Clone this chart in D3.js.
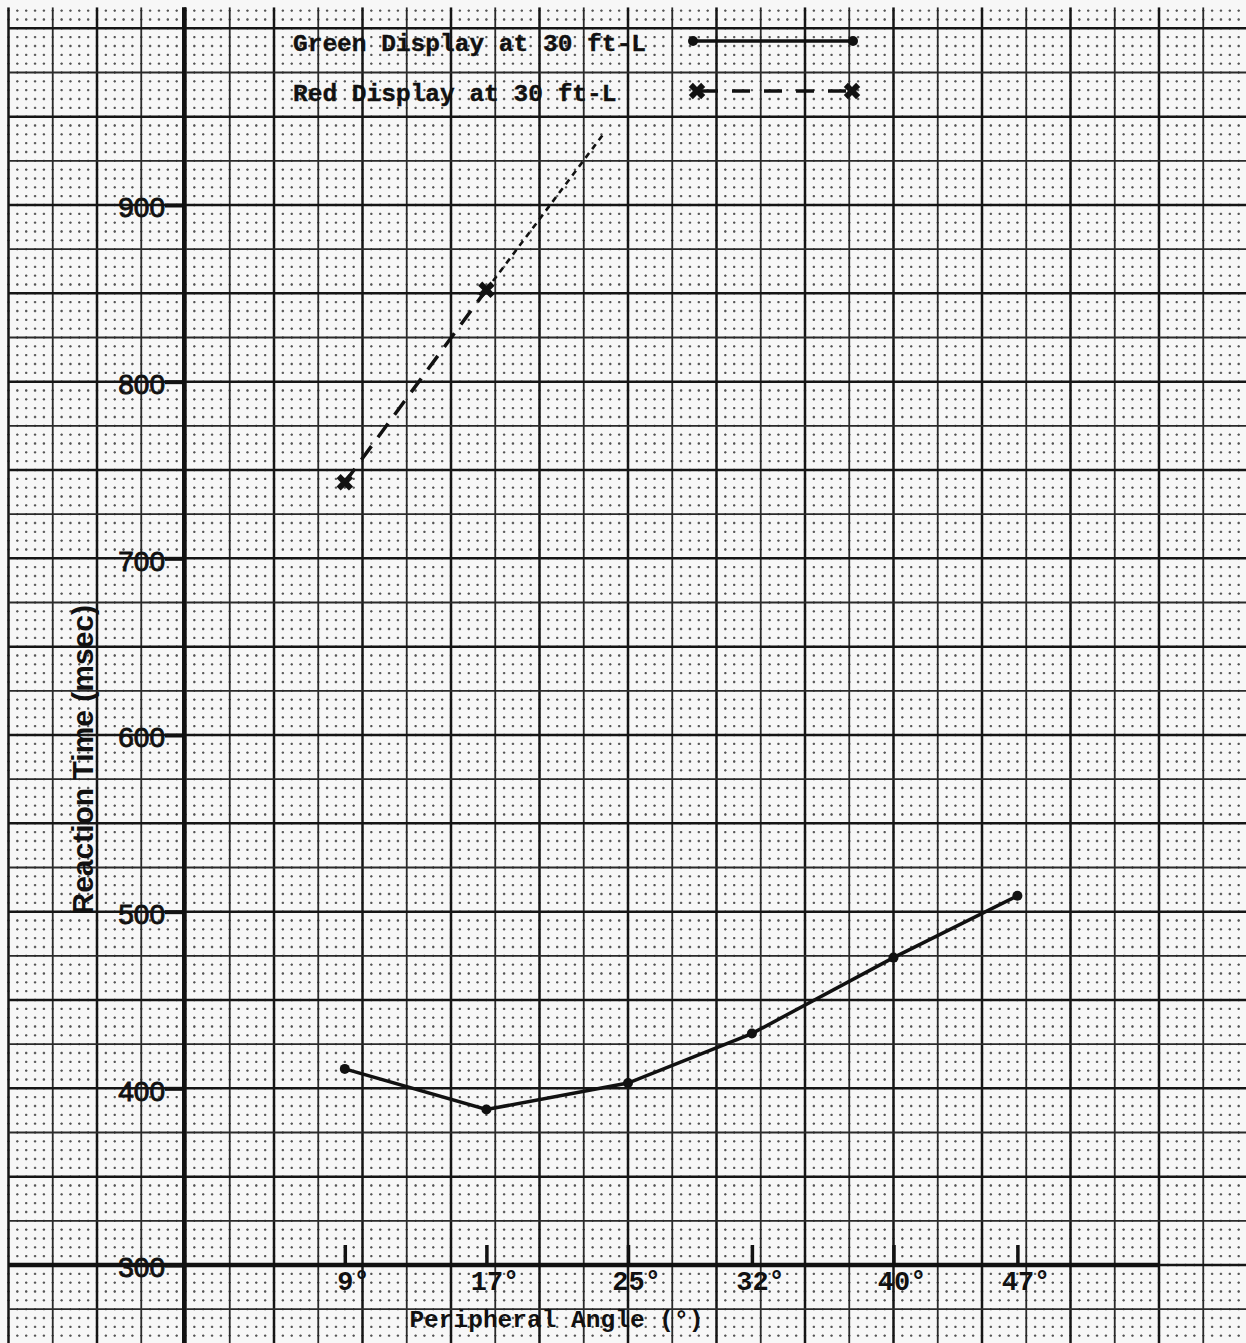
<!DOCTYPE html>
<html lang="en">
  <head>
    <meta charset="utf-8">
    <title>Reaction Time vs Peripheral Angle</title>
    <script type="text/javascript" src="https://d3js.org/d3.v7.min.js"></script>
  </head>
  <style>
    body { margin: 0; background: #f6f6f6; }
    svg { display: block; }
  </style>
  <body>
    <svg class="chart"></svg>
  </body>

  <script>
    //Data
    const angles = [9, 17, 25, 32, 40, 47];
    const greenRT = [411, 388, 403, 431, 474, 509];
    const redAngles = [9, 17];
    const redRT = [743, 852];
    //hand drawn dotted continuation of the red curve
    const redExtAngles = [17, 23.6];
    const redExtRT = [852, 940];
    const yTicks = [300, 400, 500, 600, 700, 800, 900];
    const xTickLabels = ["9°", "17°", "25°", "32°", "40°", "47°"];
    const legendLabels = ["Green Display at 30 ft-L", "Red Display at 30 ft-L"];

    //Constants
    const width = 1246, height = 1343;
    const ink = "#111";

    var svg = d3.select(".chart")
      .attr("width", width)
      .attr("height", height);

    var xScale = d3.scaleLinear().domain([0, 55]).range([185.5, 185.5 + 55 * 17.7]);
    var yScale = d3.scaleLinear().domain([300, 900]).range([1265, 205]);

    /*
      graph paper
        - minor lines every 0.5 deg / 5 msec (dotted)
        - medium lines every 2.5 deg / 25 msec
        - heavy lines every 5 deg / 50 msec
    */
    var paperLeft = xScale(-10), paperTop = yScale(1012);
    svg.append("rect")
      .attr("x", 0).attr("y", 0).attr("width", width).attr("height", height)
      .attr("fill", "#f7f7f7");

    svg.append("clipPath").attr("id", "paper")
      .append("rect")
        .attr("x", paperLeft - 2).attr("y", paperTop)
        .attr("width", width).attr("height", height);

    var paper = svg.append("g").attr("clip-path", "url(#paper)");

    var xMinor = d3.range(-10, 62, 0.5);
    var yMinor = d3.range(250, 1020, 5);
    var cellX = xScale(0.5) - xScale(0), cellY = yScale(300) - yScale(305);

    paper.selectAll(".vminor")
      .data(xMinor.filter(d => Math.abs(d / 2.5 - Math.round(d / 2.5)) > 1e-6))
      .enter().append("line")
        .attr("x1", d => xScale(d)).attr("x2", d => xScale(d))
        .attr("y1", yScale(1015)).attr("y2", height)
        .attr("stroke", "#555").attr("stroke-width", 1.4)
        .attr("stroke-dasharray", "2.4," + (cellY - 2.4))
        .attr("stroke-dashoffset", 1.2);

    paper.selectAll(".hminor")
      .data(yMinor.filter(d => d % 25 != 0))
      .enter().append("line")
        .attr("x1", xScale(-10.5)).attr("x2", width)
        .attr("y1", d => yScale(d)).attr("y2", d => yScale(d))
        .attr("stroke", "#555").attr("stroke-width", 1.4)
        .attr("stroke-dasharray", "2.4," + (cellX - 2.4))
        .attr("stroke-dashoffset", 1.2);

    paper.selectAll(".vmajor")
      .data(d3.range(-10, 62, 2.5))
      .enter().append("line")
        .attr("x1", d => xScale(d)).attr("x2", d => xScale(d))
        .attr("y1", paperTop).attr("y2", height)
        .attr("stroke", d => d % 5 == 0 ? "#151515" : "#2a2a2a")
        .attr("stroke-width", d => d % 5 == 0 ? 2.5 : 1.8);

    paper.selectAll(".hmajor")
      .data(d3.range(250, 1025, 25))
      .enter().append("line")
        .attr("x1", paperLeft).attr("x2", width)
        .attr("y1", d => yScale(d)).attr("y2", d => yScale(d))
        .attr("stroke", d => d % 50 == 0 ? "#151515" : "#2a2a2a")
        .attr("stroke-width", d => d % 50 == 0 ? 2.5 : 1.8);

    //heavy axes
    svg.append("line")
      .attr("x1", xScale(0) - 1.5).attr("x2", xScale(0) - 1.5)
      .attr("y1", paperTop).attr("y2", height)
      .attr("stroke", ink).attr("stroke-width", 4);

    svg.append("line")
      .attr("x1", paperLeft).attr("x2", xScale(55))
      .attr("y1", yScale(300)).attr("y2", yScale(300))
      .attr("stroke", ink).attr("stroke-width", 4.5);

    //y axis ticks and labels
    var yAxis = d3.axisLeft(yScale).tickValues(yTicks).tickSize(19).tickPadding(0);
    var yg = svg.append("g")
      .attr("transform", "translate(" + (xScale(0) - 1.5) + ",0)")
      .call(yAxis);
    yg.select(".domain").remove();
    yg.selectAll(".tick line").attr("stroke", ink).attr("stroke-width", 4);
    yg.selectAll(".tick text")
      .attr("fill", ink)
      .attr("stroke", ink).attr("stroke-width", 0.9)
      .attr("dy", "0.42em")
      .style("font-family", "'Liberation Sans', Arial, sans-serif")
      .style("font-size", "28px");

    //x axis ticks (pointing up) and labels
    var xAxis = d3.axisBottom(xScale)
      .tickValues(angles)
      .tickFormat((d, i) => xTickLabels[i])
      .tickSizeInner(-20).tickSizeOuter(0).tickPadding(6);
    var xg = svg.append("g")
      .attr("transform", "translate(0," + yScale(300) + ")")
      .call(xAxis);
    xg.select(".domain").remove();
    xg.selectAll(".tick line").attr("stroke", ink).attr("stroke-width", 3.5);
    xg.selectAll(".tick text")
      .attr("fill", ink)
      .attr("dx", "0.3em")
      .style("font-family", "'Liberation Mono', 'Courier New', monospace")
      .style("font-weight", "bold")
      .style("font-size", "27px");

    //axis titles
    svg.append("text")
      .text("Peripheral Angle (°)")
      .attr("x", xScale(17) - 77)
      .attr("y", 1327)
      .attr("fill", ink)
      .style("font-family", "'Liberation Mono', 'Courier New', monospace")
      .style("font-weight", "bold")
      .style("font-size", "24.5px");

    svg.append("text")
      .text("Reaction Time (msec)")
      .attr("transform", "translate(93," + yScale(586) + ") rotate(-90)")
      .attr("text-anchor", "middle")
      .attr("fill", ink)
      .style("font-family", "'Liberation Sans', Arial, sans-serif")
      .style("font-weight", "bold")
      .style("font-size", "30px");

    //series
    var line = d3.line().x(d => xScale(d[0])).y(d => yScale(d[1]));
    var greenPts = angles.map((a, i) => [a, greenRT[i]]);
    var redPts = redAngles.map((a, i) => [a, redRT[i]]);
    var extPts = redExtAngles.map((a, i) => [a, redExtRT[i]]);

    svg.append("path")
      .attr("d", line(greenPts))
      .attr("fill", "none").attr("stroke", ink).attr("stroke-width", 3.5);
    svg.selectAll(".gdot")
      .data(greenPts)
      .enter().append("circle")
        .attr("cx", d => xScale(d[0])).attr("cy", d => yScale(d[1]))
        .attr("r", 5).attr("fill", ink);

    svg.append("path")
      .attr("d", line(redPts))
      .attr("fill", "none").attr("stroke", ink).attr("stroke-width", 3.5)
      .attr("stroke-dasharray", "17,11");
    svg.append("path")
      .attr("d", line(extPts))
      .attr("fill", "none").attr("stroke", ink).attr("stroke-width", 2.6)
      .attr("stroke-dasharray", "6,5");

    var cross = d3.symbol().type(d3.symbolCross).size(170);
    svg.selectAll(".rmark")
      .data(redPts)
      .enter().append("path")
        .attr("d", cross)
        .attr("transform", d => "translate(" + xScale(d[0]) + "," + yScale(d[1]) + ") rotate(45)")
        .attr("fill", ink);

    //legend
    var legend = svg.append("g");
    legend.selectAll("text")
      .data(legendLabels)
      .enter().append("text")
        .text(d => d)
        .attr("x", 293)
        .attr("y", (d, i) => 51 + i * 50)
        .attr("fill", ink)
        .attr("stroke", ink).attr("stroke-width", 0.4)
        .style("font-family", "'Liberation Mono', 'Courier New', monospace")
        .style("font-weight", "bold")
        .style("font-size", "24.5px");

    legend.append("line")
      .attr("x1", 693).attr("x2", 853).attr("y1", 41).attr("y2", 41)
      .attr("stroke", ink).attr("stroke-width", 3.5);
    legend.selectAll(".ldot")
      .data([693, 853])
      .enter().append("circle")
        .attr("cx", d => d).attr("cy", 41).attr("r", 5).attr("fill", ink);

    legend.append("line")
      .attr("x1", 700).attr("x2", 848).attr("y1", 91).attr("y2", 91)
      .attr("stroke", ink).attr("stroke-width", 3.5)
      .attr("stroke-dasharray", "18,14");
    legend.selectAll(".lmark")
      .data([697, 852])
      .enter().append("path")
        .attr("d", cross)
        .attr("transform", d => "translate(" + d + ",91) rotate(45)")
        .attr("fill", ink);
  </script>
</html>
